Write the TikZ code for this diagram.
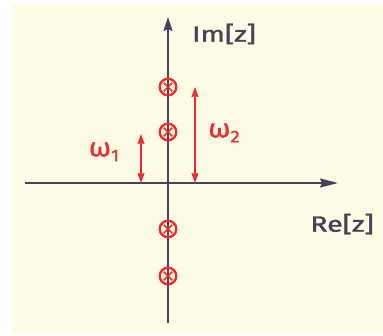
\documentclass[tikz,border=0pt]{standalone}
\usepackage{fontspec}
\setmainfont{Fira Sans}
\newfontfamily\penfont{Fira Sans}[FakeBold=1.2]
\usetikzlibrary{arrows.meta}
\definecolor{cream}{HTML}{FFFCE6}
\definecolor{axiscol}{HTML}{4A3F5C}
\definecolor{penred}{HTML}{EE2E2E}
\tikzset{
  axis/.style={draw=axiscol, line width=1.6pt},
  axhead/.style={-{Stealth[length=#1,width=9pt,inset=2pt]}},
  zeromark/.style={circle, draw=penred, line width=2.4pt, minimum size=16.5pt, inner sep=0pt,
    path picture={\draw[penred, line width=1.7pt] ([xshift=4pt,yshift=4pt]path picture bounding box.south west) -- ([xshift=-4pt,yshift=-4pt]path picture bounding box.north east);
                  \draw[penred, line width=1.7pt] ([xshift=4pt,yshift=-4pt]path picture bounding box.north west) -- ([xshift=-4pt,yshift=4pt]path picture bounding box.south east);}},
  omega/.style={draw=penred, line width=1.4pt, {Stealth[length=10pt,width=7pt,inset=1pt]}-{Stealth[length=10pt,width=7pt,inset=1pt]}},
  lbl/.style={text=axiscol, font=\penfont\fontsize{22}{24}\selectfont, inner sep=0pt, xscale=1.3},
  rlbl/.style={text=penred, font=\penfont\fontsize{26}{28}\selectfont, inner sep=0pt, xscale=1.1}
}
\begin{document}
\begin{tikzpicture}[x=1pt, y=-1pt]
\useasboundingbox (0,0) rectangle (383,335);
\fill[white] (0,0) rectangle (383,335);
\fill[cream] (12,5) rectangle (383,333);
% axes
\coordinate (xl) at (25,183);
\coordinate (xr) at (338,183);
\coordinate (yb) at (168,323);
\coordinate (yt) at (168,17);
\draw[axis, axhead=18pt] (xl) -- (xr);
\draw[axis, axhead=14pt] (yb) -- (yt);
% zeros
\node[zeromark] (z1) at (168,87) {};
\node[zeromark] (z2) at (168,132) {};
\node[zeromark] (z3) at (168,229) {};
\node[zeromark] (z4) at (168,276) {};
% omega arrows
\coordinate (w1t) at (141,134);
\coordinate (w1b) at (141,183);
\coordinate (w2t) at (195,87);
\coordinate (w2b) at (195,183);
\draw[omega] (w1b) -- (w1t);
\draw[omega] (w2b) -- (w2t);
\node[rlbl] (l1) at (104,152) {ω\raisebox{-5pt}{\fontsize{17}{17}\selectfont 1}};
\node[rlbl] (l2) at (224,133) {ω\raisebox{-5pt}{\fontsize{17}{17}\selectfont 2}};
\node[lbl] (im) at (224,34) {Im[z]};
\node[lbl] (re) at (342,224) {Re[z]};
\end{tikzpicture}
\end{document}
